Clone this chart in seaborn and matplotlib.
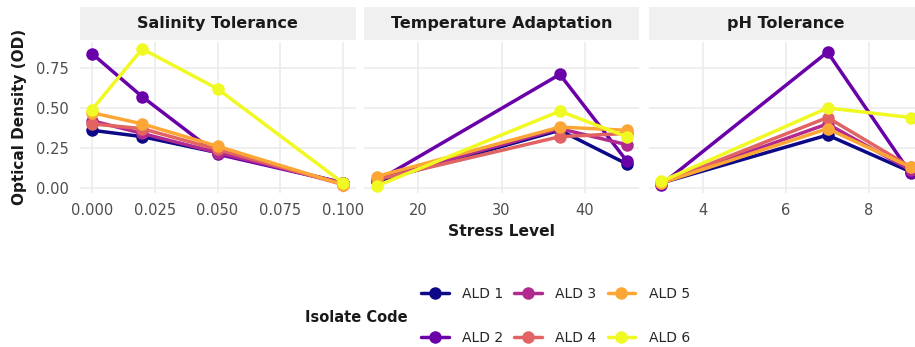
import numpy as np
import pandas as pd
import matplotlib
matplotlib.use("Agg")
import matplotlib.pyplot as plt
import seaborn as sns

sns.set_theme(style="white")
plt.rcParams['font.family'] = ['DejaVu Sans']

# ---- data ----
isolates = ["ALD 1", "ALD 2", "ALD 3", "ALD 4", "ALD 5", "ALD 6"]
panels = ["Salinity Tolerance", "Temperature Adaptation", "pH Tolerance"]

salinity_levels = [0.0, 0.02, 0.05, 0.1]
salinity_od = {
    "ALD 1": [0.36, 0.32, 0.22, 0.03],
    "ALD 2": [0.84, 0.57, 0.21, 0.03],
    "ALD 3": [0.42, 0.34, 0.22, 0.03],
    "ALD 4": [0.40, 0.37, 0.24, 0.02],
    "ALD 5": [0.47, 0.40, 0.26, 0.02],
    "ALD 6": [0.49, 0.87, 0.62, 0.03],
}

temperature_levels = [15, 37, 45]
temperature_od = {
    "ALD 1": [0.04, 0.36, 0.15],
    "ALD 2": [0.04, 0.71, 0.17],
    "ALD 3": [0.05, 0.37, 0.27],
    "ALD 4": [0.05, 0.32, 0.34],
    "ALD 5": [0.07, 0.38, 0.36],
    "ALD 6": [0.01, 0.48, 0.32],
}

ph_levels = [3, 7, 9]
ph_od = {
    "ALD 1": [0.03, 0.33, 0.10],
    "ALD 2": [0.02, 0.85, 0.09],
    "ALD 3": [0.03, 0.40, 0.11],
    "ALD 4": [0.03, 0.44, 0.13],
    "ALD 5": [0.03, 0.37, 0.13],
    "ALD 6": [0.04, 0.50, 0.44],
}

colors = ["#0D0887", "#6A00A8", "#B12A90", "#E16462", "#FCA636", "#F0F921"]
palette = dict(zip(isolates, colors))

rows = []
for panel, levels, od in [(panels[0], salinity_levels, salinity_od),
                          (panels[1], temperature_levels, temperature_od),
                          (panels[2], ph_levels, ph_od)]:
    for iso in isolates:
        for lv, v in zip(levels, od[iso]):
            rows.append({"Panel": panel, "Stress Level": lv, "OD": v, "Isolate Code": iso})
df = pd.DataFrame(rows)

W, H = 915, 347
fig = plt.figure(figsize=(W / 100, H / 100), dpi=100)

panel_px = [(79.5, 355.5), (364, 639), (649, 923)]
top_px, bot_px = 42, 193
xlims = [(-0.005, 0.105), (13.5, 46.5), (2.7, 9.3)]
xticks = [[0.0, 0.025, 0.05, 0.075, 0.1], [20, 30, 40], [4, 6, 8]]
xticklabels = [["0.000", "0.025", "0.050", "0.075", "0.100"], ["20", "30", "40"], ["4", "6", "8"]]
ylim = (-0.033, 0.913)
grid_col = "#EBEBEB"

axes = []
for i, (panel, (l, r)) in enumerate(zip(panels, panel_px)):
    ax = fig.add_axes([l / W, 1 - bot_px / H, (r - l) / W, (bot_px - top_px) / H])
    sub = df[df["Panel"] == panel]
    sns.lineplot(data=sub, x="Stress Level", y="OD", hue="Isolate Code",
                 hue_order=isolates, palette=palette, marker="o", markersize=9,
                 markeredgewidth=0, linewidth=2.5, ax=ax, legend=(i == 0),
                 errorbar=None, sort=False)
    ax.set_xlim(*xlims[i])
    ax.set_ylim(*ylim)
    ax.set_xticks(xticks[i])
    ax.set_xticklabels(xticklabels[i])
    ax.set_yticks([0, 0.25, 0.5, 0.75])
    if i == 0:
        ax.set_yticklabels(["0.00", "0.25", "0.50", "0.75"])
    else:
        ax.set_yticklabels([])
    ax.tick_params(axis="both", length=0, labelsize=10.5, labelcolor="#4D4D4D")
    ax.tick_params(axis="x", pad=7)
    ax.tick_params(axis="y", pad=8)
    ax.grid(True, color=grid_col, linewidth=1.1)
    ax.set_axisbelow(True)
    for s in ax.spines.values():
        s.set_visible(False)
    ax.set_xlabel("")
    ax.set_ylabel("")
    # strip
    sax = fig.add_axes([l / W, 1 - 40 / H, (r - l) / W, 33 / H])
    sax.set_facecolor("#F0F0F0")
    sax.set_xticks([]); sax.set_yticks([])
    for s in sax.spines.values():
        s.set_visible(False)
    sax.text(0.5, 0.5, panel, ha="center", va="center", fontsize=11.5,
             fontweight="bold", color="#1A1A1A", transform=sax.transAxes)
    axes.append(ax)

# legend
handles, labels = axes[0].get_legend_handles_labels()
axes[0].get_legend().remove()
fig.legend(handles, labels, ncol=3, frameon=False, loc="center left",
           bbox_to_anchor=(421 / W, 1 - 316 / H), borderpad=0,
           fontsize=10, handlelength=2.0, handletextpad=0.95,
           columnspacing=0.8, labelspacing=2.2, borderaxespad=0)
fig.text(305 / W, 1 - 317 / H, "Isolate Code", ha="left", va="center",
         fontsize=10.5, fontweight="bold", color="#1A1A1A")

fig.text(501 / W, 1 - 231 / H, "Stress Level", ha="center", va="center",
         fontsize=11.2, fontweight="bold", color="#1A1A1A")
fig.text(20 / W, 1 - 117 / H, "Optical Density (OD)", ha="center", va="center",
         rotation=90, fontsize=11, fontweight="bold", color="#1A1A1A")

fig.savefig("out.png", dpi=100)
